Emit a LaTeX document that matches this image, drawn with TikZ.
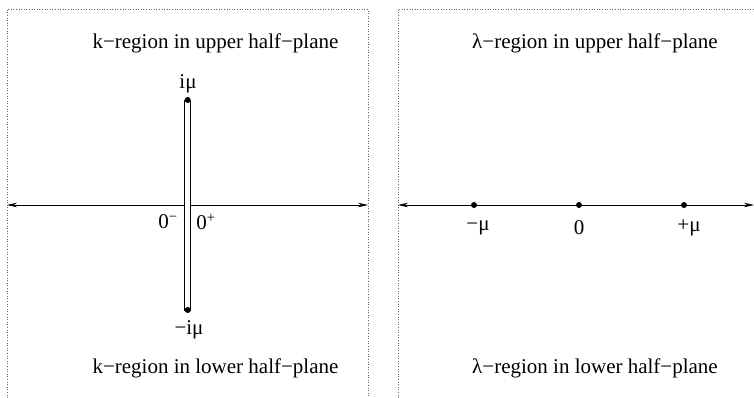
\documentclass[tikz,border=0pt]{standalone}
\usepackage{fontspec}
\setmainfont{Liberation Serif}
\usetikzlibrary{arrows.meta}
\begin{document}
\begin{tikzpicture}[x=1pt,y=1pt,
  frame/.style={draw=black!60,dotted,line width=0.6pt},
  axis/.style={draw=black,line width=0.7pt,{Stealth[length=10pt,width=4.5pt]}-{Stealth[length=10pt,width=4.5pt]}},
  lbl/.style={inner sep=0pt,font=\fontsize{21}{24}\selectfont},
  pt/.style={circle,fill=black,inner sep=0pt,minimum size=6pt}]
\useasboundingbox (0,0) rectangle (754,398);
% frames
\draw[frame] (7,-5) -- (7,389) -- (368,389) -- (368,-5);
\draw[frame] (398,-5) -- (398,389) -- (760,389);
% left panel
\coordinate (la) at (7,193);
\coordinate (lb) at (368,193);
\draw[axis] (la) -- (lb);
\node[draw=black,line width=0.7pt,fill=white,minimum width=6pt,minimum height=210pt,inner sep=0pt] (cut) at (187.7,193) {};
\node[pt] (top) at (187.7,298) {};
\node[pt] (bot) at (187.7,88) {};
\node[lbl] (tu) at (215.5,355) {k−region in upper half−plane};
\node[lbl] (tl) at (215.5,30) {k−region in lower half−plane};
\node[lbl] (imu) at (188,314) {iμ};
\node[lbl] (mimu) at (189,68) {−iμ};
\node[lbl] (zm) at (168,176) {0\textsuperscript{−}};
\node[lbl] (zp) at (206,176) {0\textsuperscript{+}};
% right panel
\coordinate (ra) at (398,193);
\coordinate (rb) at (754,193);
\draw[axis] (ra) -- (rb);
\node[pt] (p1) at (474,193) {};
\node[pt] (p2) at (579,193) {};
\node[pt] (p3) at (684,193) {};
\node[lbl] (ru) at (595,355) {λ−region in upper half−plane};
\node[lbl] (rl) at (595,30) {λ−region in lower half−plane};
\node[lbl] (l1) at (478,170) {−μ};
\node[lbl] (l2) at (579,170) {0};
\node[lbl] (l3) at (689,170) {+μ};
\end{tikzpicture}
\end{document}
